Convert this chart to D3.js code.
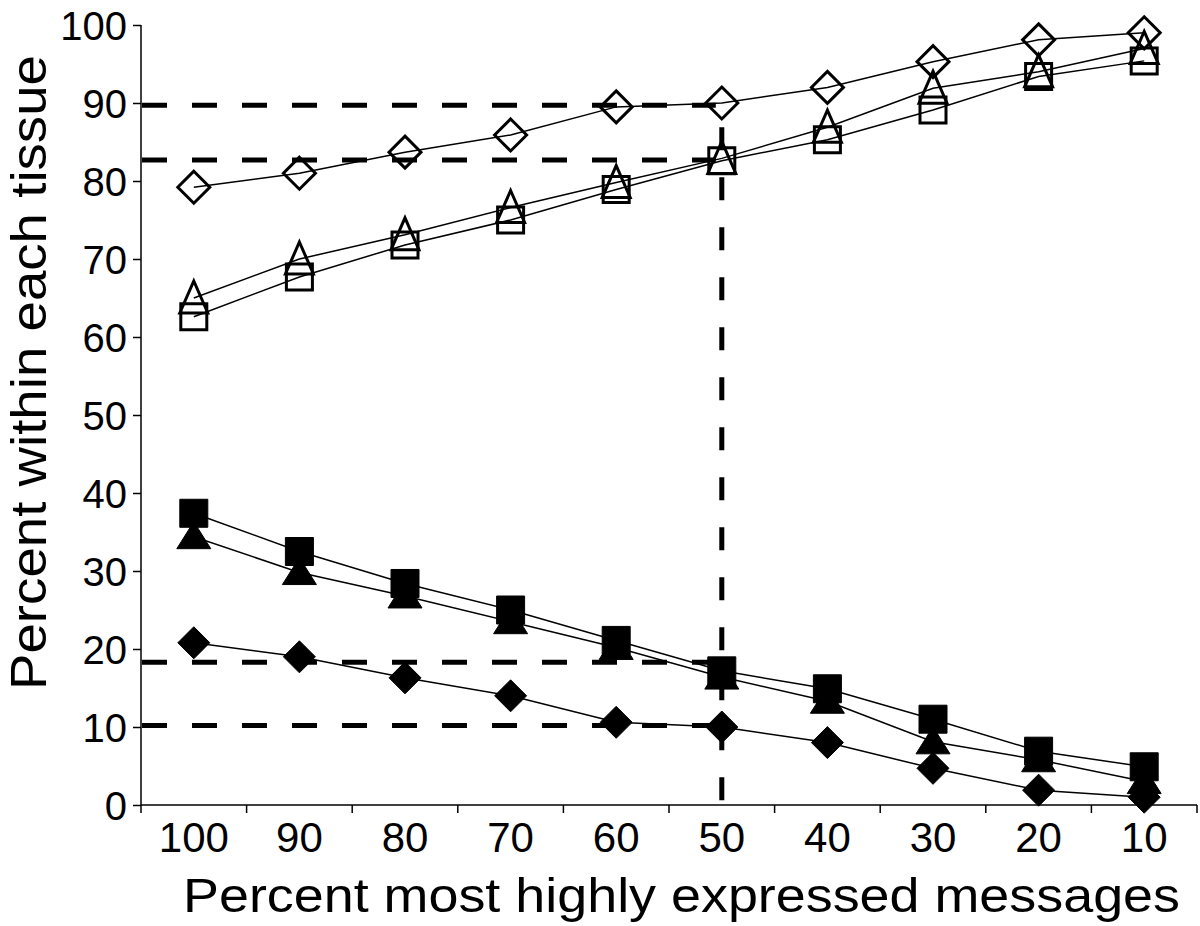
<!DOCTYPE html>
<html>
<head>
<meta charset="utf-8">
<script src="https://cdn.jsdelivr.net/npm/d3@7"></script>
<style>
  html, body { margin: 0; padding: 0; background: #fff; }
  svg { display: block; font-family: "Liberation Sans", Arial, Helvetica, sans-serif; }
</style>
</head>
<body>
<svg id="chart" width="1200" height="926"></svg>
<script>
// --- Data ---
const categories = ["100", "90", "80", "70", "60", "50", "40", "30", "20", "10"];
const yTicks = [0, 10, 20, 30, 40, 50, 60, 70, 80, 90, 100];

const openDiamond  = [79.2, 81.0, 83.7, 85.9, 89.5, 90.0, 92.0, 95.3, 98.1, 99.0];
const openTriangle = [65.0, 70.0, 73.1, 76.6, 79.8, 82.9, 86.9, 91.9, 94.0, 97.0];
const openSquare   = [62.6, 67.7, 71.8, 75.0, 78.9, 82.6, 85.3, 89.1, 93.4, 95.4];
const filledSquare   = [37.4, 32.5, 28.4, 25.0, 21.1, 17.2, 14.9, 11.0, 6.9, 4.9];
const filledTriangle = [34.4, 29.8, 26.8, 23.5, 20.2, 16.4, 13.3, 8.1, 5.8, 3.0];
const filledDiamond  = [20.8, 19.0, 16.3, 14.0, 10.6, 10.0, 8.0, 4.7, 1.9, 1.0];

const refCategory = "50";
const refLevels = [89.7, 82.7, 18.3, 10.2];

const series = [
  { values: filledDiamond,  shape: "diamond",  filled: true },
  { values: filledTriangle, shape: "triangle", filled: true },
  { values: filledSquare,   shape: "square",   filled: true },
  { values: openSquare,     shape: "square",   filled: false },
  { values: openTriangle,   shape: "triangle", filled: false },
  { values: openDiamond,    shape: "diamond",  filled: false }
];

// --- Layout ---
const svg = d3.select("#chart");
const plotLeft = 141, plotRight = 1197, plotTop = 25, plotBottom = 805;

const x = d3.scaleBand().domain(categories).range([plotLeft, plotRight]).padding(0);
const y = d3.scaleLinear().domain([0, 100]).range([plotBottom, plotTop]);
const cx = c => x(c) + x.bandwidth() / 2;

// --- Axes ---
const yAxis = svg.append("g")
  .attr("transform", `translate(${plotLeft},0)`)
  .call(d3.axisLeft(y).tickValues(yTicks).tickSize(8).tickPadding(6));
yAxis.select(".domain").attr("stroke", "#000").attr("stroke-width", 1.5).attr("d", `M0,${plotTop}H0V${plotBottom}`);
yAxis.selectAll(".tick line").attr("stroke", "#000").attr("stroke-width", 1.5);
yAxis.selectAll(".tick text")
  .attr("font-size", 40).attr("fill", "#000").attr("dy", "0.36em");

const xAxis = svg.append("g")
  .attr("transform", `translate(0,${plotBottom})`)
  .call(d3.axisBottom(x).tickSize(0).tickPadding(17));
xAxis.select(".domain").attr("stroke", "#000").attr("stroke-width", 1.5).attr("d", `M${plotLeft},0H${plotRight}`);
xAxis.selectAll(".tick text").attr("font-size", 42).attr("fill", "#000").attr("dy", "0.72em");

// band boundary tick marks
const bounds = categories.map(c => x(c)).concat([plotRight]);
svg.append("g").selectAll("line")
  .data(bounds)
  .enter().append("line")
  .attr("x1", d => d).attr("x2", d => d)
  .attr("y1", plotBottom).attr("y2", plotBottom + 8)
  .attr("stroke", "#000").attr("stroke-width", 1.5);

// axis titles
svg.append("text")
  .attr("x", 183).attr("y", 912)
  .attr("font-size", 48).attr("fill", "#000")
  .attr("textLength", 997).attr("lengthAdjust", "spacingAndGlyphs")
  .text("Percent most highly expressed messages");

svg.append("text")
  .attr("transform", "translate(46,690) rotate(-90)")
  .attr("font-size", 50).attr("fill", "#000")
  .attr("textLength", 635).attr("lengthAdjust", "spacingAndGlyphs")
  .text("Percent within each tissue");

// --- Series lines ---
const line = d3.line().x((d, i) => cx(categories[i])).y(d => y(d));
svg.append("g").selectAll("path")
  .data(series)
  .enter().append("path")
  .attr("d", d => line(d.values))
  .attr("fill", "none").attr("stroke", "#000").attr("stroke-width", 1.5);

// --- Markers ---
function shapePath(shape, filled) {
  if (shape === "diamond") {
    const r = 16;
    return `M0,${-r}L${r},0L0,${r}L${-r},0Z`;
  }
  if (shape === "square") {
    const h = filled ? 14 : 13;
    return `M${-h},${-h}H${h}V${h}H${-h}Z`;
  }
  // triangle
  const w = filled ? 17 : 14;
  const t = filled ? -15 : -17, b = filled ? 12 : 15;
  return `M0,${t}L${w},${b}H${-w}Z`;
}

series.forEach(s => {
  svg.append("g").selectAll("path")
    .data(s.values)
    .enter().append("path")
    .attr("transform", (d, i) => `translate(${cx(categories[i])},${y(d)})`)
    .attr("d", shapePath(s.shape, s.filled))
    .attr("fill", s.filled ? "#000" : "none")
    .attr("stroke", "#000")
    .attr("stroke-width", s.filled ? 1 : 3)
    .attr("stroke-linejoin", s.filled ? "round" : "miter");
});

// --- Dashed reference lines ---
const refX = cx(refCategory);
const refs = svg.append("g")
  .attr("stroke", "#000").attr("stroke-width", 5).attr("fill", "none");
refs.selectAll("line.h")
  .data(refLevels)
  .enter().append("line")
  .attr("class", "h")
  .attr("x1", plotLeft + 1).attr("x2", refX - 6)
  .attr("y1", d => y(d)).attr("y2", d => y(d))
  .attr("stroke-dasharray", "25,25");
refs.append("line")
  .attr("x1", refX).attr("x2", refX)
  .attr("y1", y(d3.max(refLevels))).attr("y2", plotBottom)
  .attr("stroke-dasharray", "23,27")
  .attr("stroke-dashoffset", 28);
</script>
</body>
</html>
